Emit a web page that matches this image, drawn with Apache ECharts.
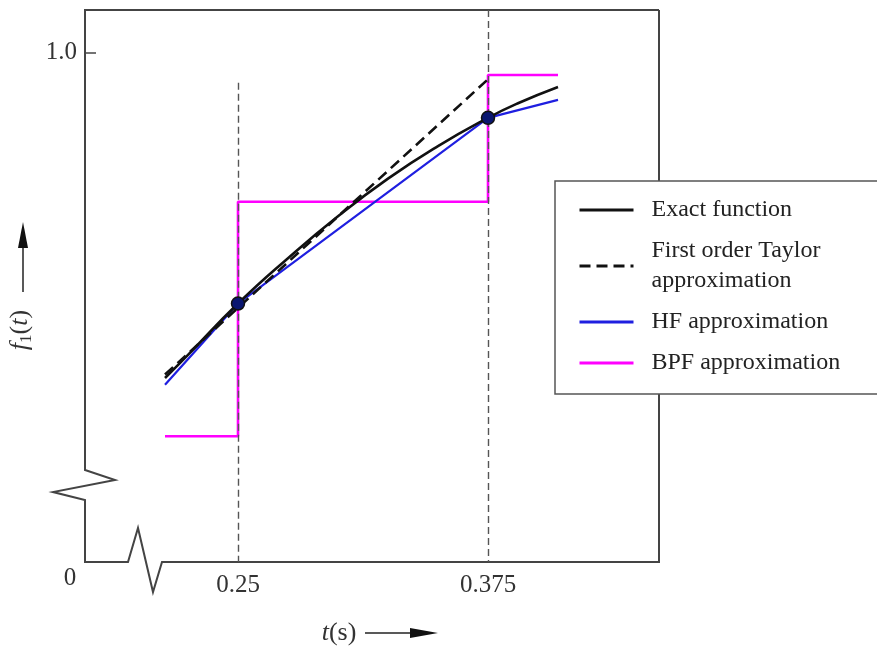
<!DOCTYPE html>
<html>
<head>
<meta charset="utf-8">
<script src="https://cdn.jsdelivr.net/npm/echarts@6/dist/echarts.min.js"></script>
<style>
  html, body { margin: 0; padding: 0; background: #fff; }
  #chart { width: 877px; height: 647px; }
</style>
</head>
<body>
<div id="chart"></div>
<script>
// values (t in s, f1(t))
var tExact = [0.2135, 0.225, 0.25, 0.275, 0.30, 0.325, 0.35, 0.375, 0.39, 0.41];
var fExact = [0.620, 0.647, 0.707, 0.760, 0.809, 0.853, 0.891, 0.924, 0.941, 0.960];
var tTaylor = [0.2135, 0.375];
var fTaylor = [0.624, 0.969];
var tHF = [0.2135, 0.25, 0.375, 0.41];
var fHF = [0.612, 0.707, 0.924, 0.945];
var tBPF = [0.2135, 0.25, 0.25, 0.375, 0.375, 0.41];
var fBPF = [0.552, 0.552, 0.826, 0.826, 0.974, 0.974];
var tSample = [0.25, 0.375];
var fSample = [0.707, 0.924];
var guideT = [0.25, 0.375];
var guideTop = [0.965, 1.05];
var xTicks = [0.25, 0.375];
var yTicks = [1.0];
var legendNames = ['Exact function', 'First order Taylor approximation', 'HF approximation', 'BPF approximation'];

function pairs(xs, ys) {
    return xs.map(function (x, i) { return [x, ys[i]]; });
}

var serif = 'Liberation Serif';
var chart = echarts.init(document.getElementById('chart'));

var guides = guideT.map(function (t, i) {
    return [{ coord: [t, guideTop[i]] }, { coord: [t, 0.405] }];
});

var option = {
    animation: false,
    backgroundColor: '#fff',
    grid: { left: 85, right: 218, top: 10, bottom: 85, outerBoundsMode: 'none' },
    xAxis: {
        type: 'value',
        min: 0.1735,
        max: 0.4605,
        axisLine: { show: false },
        axisTick: { show: false },
        splitLine: { show: false },
        axisLabel: {
            customValues: xTicks,
            margin: 11,
            fontFamily: serif,
            fontSize: 25,
            color: '#333'
        },
        name: '{i|t}{n|(s)}',
        nameLocation: 'middle',
        nameGap: 58,
        nameTextStyle: {
            padding: [0, 66, 0, 0],
            rich: {
                i: { fontFamily: serif, fontStyle: 'italic', fontSize: 26, color: '#333' },
                n: { fontFamily: serif, fontSize: 26, color: '#333' }
            }
        }
    },
    yAxis: {
        type: 'value',
        min: 0.405,
        max: 1.05,
        axisLine: { show: false },
        axisTick: { show: true, inside: true, length: 11, customValues: yTicks, lineStyle: { color: '#444', width: 1.5 } },
        splitLine: { show: false },
        axisLabel: {
            customValues: yTicks,
            margin: 8,
            formatter: function (v) { return v.toFixed(1); },
            fontFamily: serif,
            fontSize: 25,
            color: '#333'
        },
        name: '{i|f}{s|1}{n|(}{i|t}{n|)}',
        nameLocation: 'middle',
        nameGap: 42,
        nameRotate: 90,
        nameTextStyle: {
            padding: [0, 88, 0, 0],
            rich: {
                i: { fontFamily: serif, fontStyle: 'italic', fontSize: 26, color: '#333' },
                s: { fontFamily: serif, fontSize: 17, color: '#333', padding: [12, 0, 0, 0] },
                n: { fontFamily: serif, fontSize: 26, color: '#333' }
            }
        }
    },
    legend: {
        data: legendNames,
        orient: 'vertical',
        left: 555,
        top: 181,
        padding: [14, 40, 16, 23],
        itemGap: 11,
        itemWidth: 54,
        itemHeight: 14,
        backgroundColor: '#fff',
        borderColor: '#555',
        borderWidth: 1.5,
        z: 10,
        itemStyle: { opacity: 0 },
        lineStyle: { width: 3 },
        formatter: function (name) {
            return name === 'First order Taylor approximation' ? 'First order Taylor\napproximation' : name;
        },
        textStyle: {
            fontFamily: serif,
            fontSize: 24,
            lineHeight: 30,
            color: '#222',
            padding: [0, 0, 0, 13]
        }
    },
    series: [
        {
            name: 'Exact function',
            type: 'line',
            smooth: true,
            showSymbol: false,
            symbol: 'none',
            data: pairs(tExact, fExact),
            lineStyle: { color: '#111', width: 2.6 },
            itemStyle: { color: '#111' },
            z: 4,
            markLine: {
                silent: true,
                symbol: 'none',
                label: { show: false },
                lineStyle: { color: '#555', width: 1.4, type: [7, 4] },
                data: guides
            }
        },
        {
            name: 'First order Taylor approximation',
            type: 'line',
            showSymbol: false,
            symbol: 'none',
            data: pairs(tTaylor, fTaylor),
            lineStyle: { color: '#111', width: 2.6, type: [11, 6] },
            itemStyle: { color: '#111' },
            z: 4
        },
        {
            name: 'HF approximation',
            type: 'line',
            showSymbol: false,
            symbol: 'none',
            data: pairs(tHF, fHF),
            lineStyle: { color: '#1f1fe0', width: 2.2 },
            itemStyle: { color: '#1f1fe0' },
            z: 3
        },
        {
            name: 'BPF approximation',
            type: 'line',
            showSymbol: false,
            symbol: 'none',
            data: pairs(tBPF, fBPF),
            lineStyle: { color: '#ff00ff', width: 2.6 },
            itemStyle: { color: '#ff00ff' },
            z: 2
        },
        {
            name: 'samples',
            type: 'scatter',
            symbolSize: 13,
            data: pairs(tSample, fSample),
            itemStyle: { color: '#0a1670', borderColor: '#111', borderWidth: 1.5, opacity: 1 },
            z: 6
        }
    ]
};

chart.setOption(option);

// frame with axis-break zigzags, placed from the grid corners
var p0 = chart.convertToPixel({ gridIndex: 0 }, [0.1735, 0.405]);
var p1 = chart.convertToPixel({ gridIndex: 0 }, [0.4605, 1.05]);
var L = p0[0], B = p0[1], R = p1[0], T = p1[1];
var frame = [
    [R, T], [L, T], [L, B - 92], [L + 30, B - 82], [L - 32, B - 70], [L, B - 62], [L, B],
    [L + 43, B], [L + 53, B - 34], [L + 68, B + 30], [L + 77, B], [R, B], [R, T]
];

chart.setOption({
    graphic: [
        {
            type: 'polyline',
            z: 1,
            shape: { points: frame },
            style: { fill: null, stroke: '#444', lineWidth: 2, lineJoin: 'miter' }
        },
        {
            type: 'text',
            z: 5,
            style: { text: '0', x: L - 15, y: B + 16, fontFamily: serif, fontSize: 25, fill: '#333', align: 'center', verticalAlign: 'middle' }
        },
        // arrow after t(s)
        {
            type: 'line', z: 5,
            shape: { x1: 365, y1: 633, x2: 420, y2: 633 },
            style: { stroke: '#222', lineWidth: 1.5 }
        },
        {
            type: 'polygon', z: 5,
            shape: { points: [[410, 628], [438, 633], [410, 638]] },
            style: { fill: '#111' }
        },
        // arrow above f1(t)
        {
            type: 'line', z: 5,
            shape: { x1: 23, y1: 292, x2: 23, y2: 238 },
            style: { stroke: '#222', lineWidth: 1.5 }
        },
        {
            type: 'polygon', z: 5,
            shape: { points: [[18, 248], [23, 222], [28, 248]] },
            style: { fill: '#111' }
        }
    ]
});
</script>
</body>
</html>
